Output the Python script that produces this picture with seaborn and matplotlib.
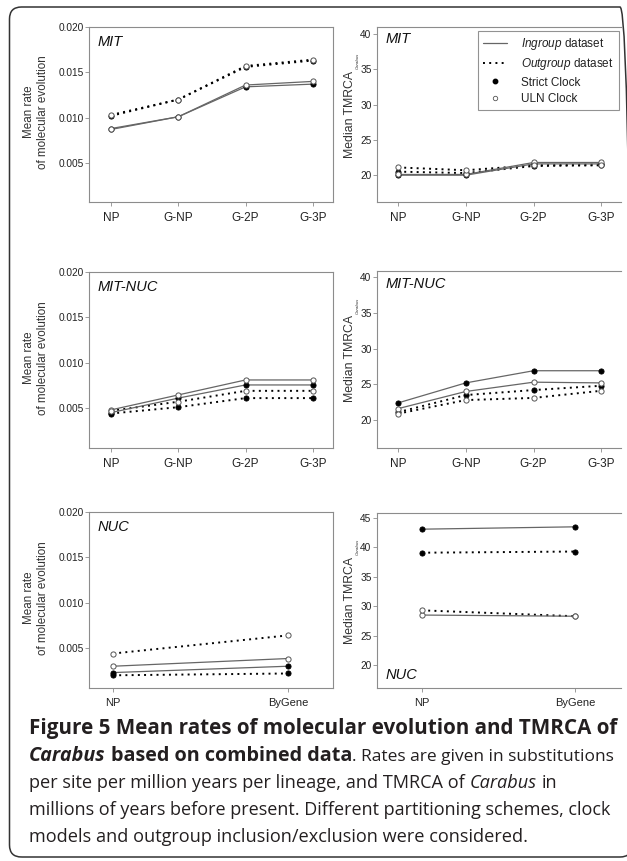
import matplotlib
matplotlib.use("Agg")
import matplotlib.pyplot as plt
import matplotlib.ticker as mticker
import seaborn as sns
from matplotlib.lines import Line2D
from matplotlib.patches import FancyBboxPatch
from matplotlib.transforms import IdentityTransform

# partitioning schemes
schemes_4 = ["NP", "G-NP", "G-2P", "G-3P"]
schemes_2 = ["NP", "ByGene"]

# mean rate, MIT
rate_mit_in_strict = [0.0087, 0.0101, 0.0134, 0.0137]
rate_mit_in_uln = [0.0088, 0.0101, 0.0136, 0.0140]
rate_mit_out_strict = [0.0102, 0.0120, 0.0156, 0.0163]
rate_mit_out_uln = [0.0103, 0.0120, 0.0157, 0.0164]

# median TMRCA, MIT
tmrca_mit_in_strict = [20.0, 20.0, 21.6, 21.6]
tmrca_mit_in_uln = [20.1, 20.1, 21.8, 21.8]
tmrca_mit_out_strict = [20.5, 20.3, 21.3, 21.4]
tmrca_mit_out_uln = [21.1, 20.7, 21.4, 21.5]

# mean rate, MIT-NUC
rate_mn_in_strict = [0.0045, 0.0061, 0.00755, 0.00755]
rate_mn_in_uln = [0.0048, 0.00645, 0.0081, 0.0081]
rate_mn_out_strict = [0.0044, 0.0051, 0.0061, 0.0061]
rate_mn_out_uln = [0.0047, 0.0057, 0.0069, 0.0069]

# median TMRCA, MIT-NUC
tmrca_mn_in_strict = [22.4, 25.2, 26.9, 26.9]
tmrca_mn_in_uln = [21.6, 24.0, 25.3, 25.2]
tmrca_mn_out_strict = [21.1, 23.5, 24.2, 24.8]
tmrca_mn_out_uln = [20.9, 22.8, 23.1, 24.1]

# mean rate, NUC
rate_nuc_in_strict = [0.0023, 0.0030]
rate_nuc_in_uln = [0.0030, 0.00385]
rate_nuc_out_strict = [0.0020, 0.0022]
rate_nuc_out_uln = [0.0044, 0.0064]

# median TMRCA, NUC
tmrca_nuc_in_strict = [43.1, 43.5]
tmrca_nuc_in_uln = [28.5, 28.3]
tmrca_nuc_out_strict = [39.1, 39.3]
tmrca_nuc_out_uln = [29.3, 28.3]

sns.set_theme(style="ticks")
plt.rcParams["font.family"] = ["Liberation Sans", "DejaVu Sans"]
plt.rcParams["mathtext.fontset"] = "custom"
plt.rcParams["mathtext.rm"] = "Liberation Sans"
plt.rcParams["mathtext.it"] = "Liberation Sans:italic"

W, H = 627, 861
fig = plt.figure(figsize=(W / 100, H / 100), dpi=100)
fig.patch.set_facecolor("white")

GRAY = "#8c8c8c"
TXT = "#222222"
DOTS = (0, (1, 2.2))


def add_ax(left, top, right, bottom):
    return fig.add_axes([left / W, 1 - bottom / H, (right - left) / W, (bottom - top) / H])


def draw_panel(ax, schemes, in_strict, in_uln, out_strict, out_uln):
    # lines first, markers on top
    for vals in (out_strict, out_uln):
        sns.lineplot(x=schemes, y=vals, ax=ax, sort=False, color="black",
                     linestyle=DOTS, linewidth=1.4, zorder=2)
    for vals in (in_strict, in_uln):
        sns.lineplot(x=schemes, y=vals, ax=ax, sort=False, color="#666666",
                     linewidth=0.9, zorder=2)
    for vals in (in_strict, out_strict):
        sns.scatterplot(x=schemes, y=vals, ax=ax, s=14, color="black",
                        edgecolor="black", linewidth=0.6, zorder=3)
    for vals in (in_uln, out_uln):
        sns.scatterplot(x=schemes, y=vals, ax=ax, s=14, color="white",
                        edgecolor="#555555", linewidth=0.7, zorder=4)


def style_ax(ax, right_col):
    for side, sp in ax.spines.items():
        sp.set_color(GRAY)
        sp.set_linewidth(0.8)
    if right_col:
        ax.spines["right"].set_visible(False)
    ax.tick_params(axis="both", length=3, width=0.6, color=GRAY, labelcolor=TXT)
    ax.tick_params(axis="x", labelsize=8.5, pad=4)
    ax.tick_params(axis="y", labelsize=7.3, pad=1)
    ax.set_xlabel("")
    ax.set_ylabel("")


def rate_axis(ax, ylim):
    ax.set_ylim(*ylim)
    ax.set_yticks([0.005, 0.010, 0.015, 0.020])
    ax.yaxis.set_major_formatter(mticker.FormatStrFormatter("%.3f"))


def title(ax, text, y):
    ax.text(9 / 244, y, text, transform=ax.transAxes, fontsize=10.5,
            style="italic", ha="left", va="center", color="#111111")


def rate_label(cy):
    fig.text(36 / W, 1 - cy / H, "Mean rate\nof molecular evolution", rotation=90,
             ha="center", va="center", multialignment="center", fontsize=8.4,
             color="#333333", linespacing=1.2)


def tmrca_label(cy):
    fig.text(350 / W, 1 - cy / H, "Median TMRCA", rotation=90, ha="center",
             va="center", fontsize=8.8, color="#333333")
    fig.text(358 / W, 1 - (cy - 53) / H, "Carabus", rotation=90, ha="center",
             va="center", fontsize=3.2, style="italic", color="#333333")


# row 1 : MIT
ax = add_ax(89, 27, 333, 202)
draw_panel(ax, schemes_4, rate_mit_in_strict, rate_mit_in_uln,
           rate_mit_out_strict, rate_mit_out_uln)
style_ax(ax, False)
rate_axis(ax, (0.0007, 0.020))
ax.set_xlim(-0.327, 3.3)
title(ax, "MIT", 0.915)
rate_label(112)

ax = add_ax(377, 27, 621, 202)
draw_panel(ax, schemes_4, tmrca_mit_in_strict, tmrca_mit_in_uln,
           tmrca_mit_out_strict, tmrca_mit_out_uln)
style_ax(ax, True)
ax.set_ylim(16.2, 41.0)
ax.set_yticks([20, 25, 30, 35, 40])
ax.set_xlim(-0.31, 3.29)
title(ax, "MIT", 0.93)
tmrca_label(114)

handles = [
    Line2D([], [], color="#666666", linewidth=0.9),
    Line2D([], [], color="black", linewidth=1.4, linestyle=DOTS),
    Line2D([], [], linestyle="none", marker="o", markersize=3.2,
           markerfacecolor="black", markeredgecolor="black"),
    Line2D([], [], linestyle="none", marker="o", markersize=3.2,
           markerfacecolor="white", markeredgecolor="#555555", markeredgewidth=0.6),
]
labels = [r"$\it{Ingroup}$ dataset", r"$\it{Outgroup}$ dataset", "Strict Clock", "ULN Clock"]
leg = ax.legend(handles, labels, loc="upper right", bbox_to_anchor=(0.992, 0.977),
                borderaxespad=0, frameon=True, fancybox=False, edgecolor="#777777",
                fontsize=8.5, handlelength=2.0, handletextpad=1.2,
                labelspacing=0.35, borderpad=0.45)
leg.get_frame().set_linewidth(0.8)
for t in leg.get_texts():
    t.set_color(TXT)

# row 2 : MIT-NUC
ax = add_ax(89, 272, 333, 448)
draw_panel(ax, schemes_4, rate_mn_in_strict, rate_mn_in_uln,
           rate_mn_out_strict, rate_mn_out_uln)
style_ax(ax, False)
rate_axis(ax, (0.0006, 0.020))
ax.set_xlim(-0.327, 3.3)
title(ax, "MIT-NUC", 0.915)
rate_label(358)

ax = add_ax(377, 271, 621, 448)
draw_panel(ax, schemes_4, tmrca_mn_in_strict, tmrca_mn_in_uln,
           tmrca_mn_out_strict, tmrca_mn_out_uln)
style_ax(ax, True)
ax.set_ylim(16.1, 40.84)
ax.set_yticks([20, 25, 30, 35, 40])
ax.set_xlim(-0.31, 3.29)
title(ax, "MIT-NUC", 0.925)
tmrca_label(359)

# row 3 : NUC
ax = add_ax(89, 512, 333, 688)
draw_panel(ax, schemes_2, rate_nuc_in_strict, rate_nuc_in_uln,
           rate_nuc_out_strict, rate_nuc_out_uln)
style_ax(ax, False)
rate_axis(ax, (0.0006, 0.020))
ax.set_xlim(-0.137, 1.257)
ax.tick_params(axis="x", labelsize=8)
title(ax, "NUC", 0.915)
rate_label(598)

ax = add_ax(377, 513, 621, 688)
draw_panel(ax, schemes_2, tmrca_nuc_in_strict, tmrca_nuc_in_uln,
           tmrca_nuc_out_strict, tmrca_nuc_out_uln)
style_ax(ax, True)
ax.set_ylim(16.1, 45.85)
ax.set_yticks([20, 25, 30, 35, 40, 45])
ax.set_xlim(-0.294, 1.30)
ax.tick_params(axis="x", labelsize=8)
title(ax, "NUC", 0.075)
tmrca_label(600)

# caption
CAP_FONT = ["Open Sans", "DejaVu Sans"]
renderer = fig.canvas.get_renderer()


def text_width(s, size, weight="normal", style="normal"):
    t = fig.text(0, 0, s, fontsize=size, fontweight=weight, fontstyle=style, family=CAP_FONT)
    w = t.get_window_extent(renderer).width
    t.remove()
    return w


line1 = "Figure 5 Mean rates of molecular evolution and TMRCA of"
line4 = "millions of years before present. Different partitioning schemes, clock"
bold_size = 12 * 589 / text_width(line1, 12, "bold")
reg_size = 12 * 583 / text_width(line4, 12)


def line_width(runs, k):
    w = 0
    for s, weight, style in runs:
        size = (bold_size if weight == "bold" else reg_size) * k
        if s.startswith(" "):
            w += text_width("x x", size, weight) - text_width("xx", size, weight)
        w += text_width(s.strip(), size, weight, style)
    return w


def caption_line(x, y, runs, target):
    k = 1.0
    if target:
        k = target / line_width(runs, 1.0)
    for s, weight, style in runs:
        size = (bold_size if weight == "bold" else reg_size) * k
        if s.startswith(" "):
            x += text_width("x x", size, weight) - text_width("xx", size, weight)
        s = s.strip()
        t = fig.text(x / W, 1 - y / H, s, fontsize=size, fontweight=weight,
                     fontstyle=style, family=CAP_FONT, ha="left", va="baseline",
                     color="#231f20")
        x += t.get_window_extent(renderer).width


caption = [
    [(line1, "bold", "normal")],
    [("Carabus", "bold", "italic"), (" based on combined data", "bold", "normal"),
     (". Rates are given in substitutions", "normal", "normal")],
    [("per site per million years per lineage, and TMRCA of", "normal", "normal"),
     (" Carabus", "normal", "italic"), (" in", "normal", "normal")],
    [(line4, "normal", "normal")],
    [("models and outgroup inclusion/exclusion were considered.", "normal", "normal")],
]
targets = [589, 583, None, 583, None]
for i, runs in enumerate(caption):
    caption_line(29, 734 + 27 * i, runs, targets[i])

# rounded frame around the figure
frame = FancyBboxPatch((9.5, H - 857), 632 - 9.5, 850,
                       boxstyle="round,pad=0,rounding_size=12",
                       transform=IdentityTransform(), facecolor="none",
                       edgecolor="#333333", linewidth=1.1)
fig.patches.append(frame)

fig.savefig("out.png", dpi=100, facecolor="white")
